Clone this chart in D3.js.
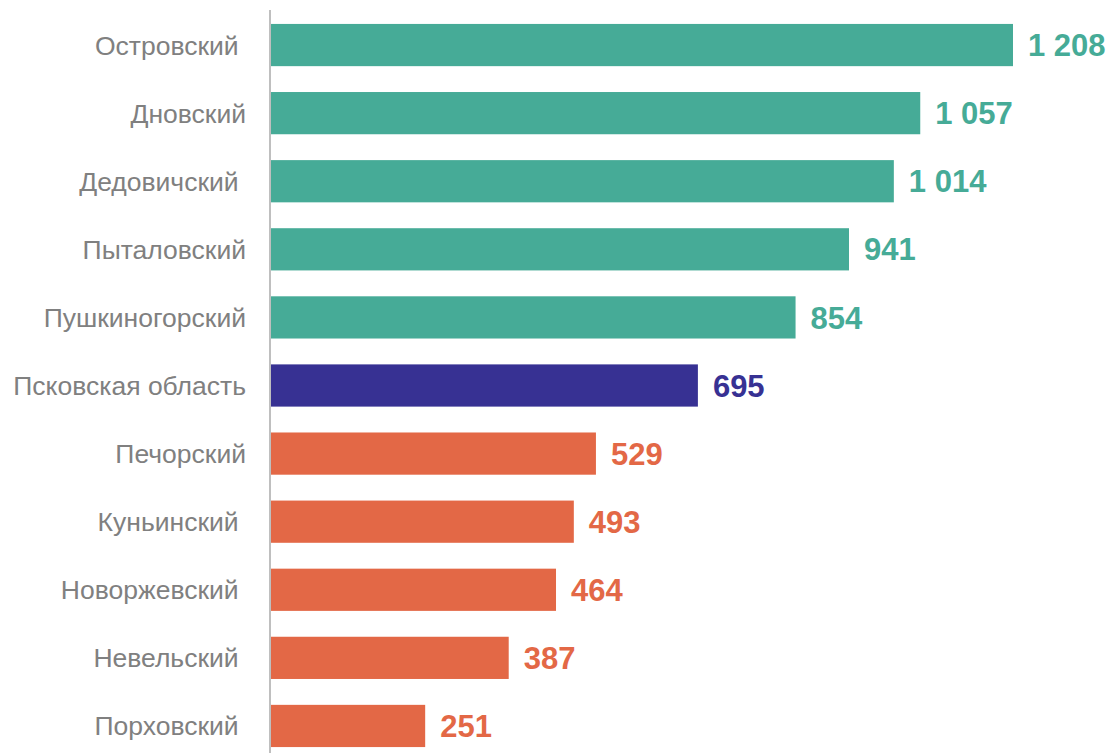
<!DOCTYPE html>
<html><head><meta charset="utf-8">
<script src="https://cdn.jsdelivr.net/npm/d3@7"></script>
<style>body{margin:0;background:#fff}svg{display:block}</style>
</head><body>
<svg id="c" width="1112" height="753"></svg>
<script>
const categories = ["Островский ","Дновский","Дедовичский ","Пыталовский","Пушкиногорский","Псковская область","Печорский","Куньинский ","Новоржевский ","Невельский ","Порховский "];
const values = [1208,1057,1014,941,854,695,529,493,464,387,251];
const groups = ["high","high","high","high","high","region","low","low","low","low","low"];
const colors = {high:"#46ab97", region:"#373193", low:"#e36846"};

const svg = d3.select("#c");
const x = d3.scaleLinear().domain([0,1208]).range([271,1013]);
const y = d3.scaleBand().domain(categories).range([11,760]).paddingInner(0.38).paddingOuter(0.19);
const fmt = d3.formatLocale({decimal:",",thousands:"\u00a0",grouping:[3],currency:["",""]}).format(",d");

svg.selectAll("rect.bar").data(categories).join("rect")
  .attr("x", x(0)).attr("y", d=>y(d)).attr("height", y.bandwidth())
  .attr("width", (d,i)=>x(values[i])-x(0)).attr("fill",(d,i)=>colors[groups[i]]);

svg.selectAll("text.val").data(categories).join("text")
  .attr("x",(d,i)=>x(values[i])+15).attr("y",d=>y(d)+y.bandwidth()/2)
  .attr("dy","0.36em").attr("font-family","Liberation Sans, Arial, sans-serif")
  .attr("font-weight","bold").attr("font-size",31).attr("fill",(d,i)=>colors[groups[i]])
  .text((d,i)=>fmt(values[i]));

svg.selectAll("text.cat").data(categories).join("text")
  .attr("x",246).attr("y",d=>y(d)+y.bandwidth()/2).attr("dy","0.36em")
  .attr("text-anchor","end").style("white-space","pre")
  .attr("font-family","Liberation Sans, Arial, sans-serif").attr("font-size",26.5).attr("fill","#808080")
  .text(d=>d);

svg.append("line").attr("x1",270).attr("x2",270).attr("y1",10).attr("y2",753)
  .attr("stroke","#bfbfbf").attr("stroke-width",2);
</script>
</body></html>
